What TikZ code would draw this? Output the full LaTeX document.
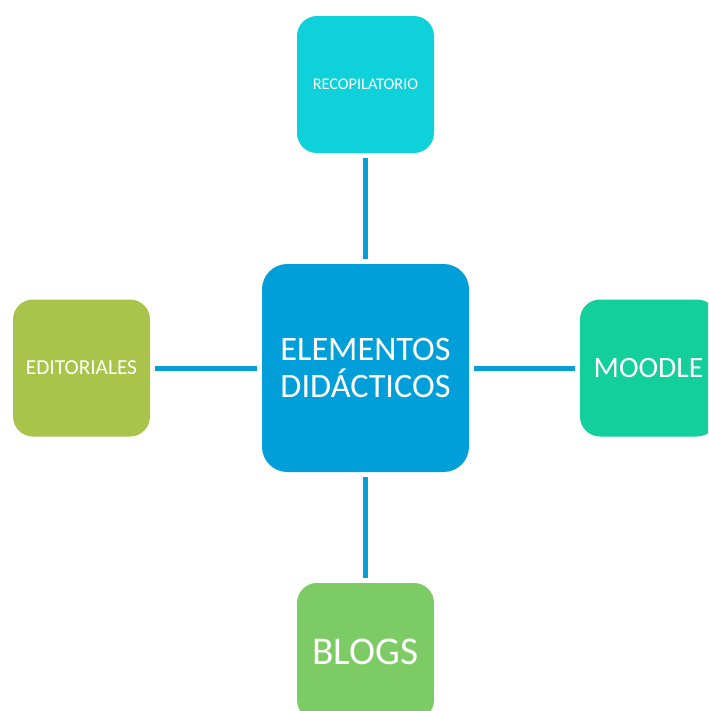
\documentclass[tikz,border=0pt]{standalone}
\usepackage{fontspec}
\setmainfont{Carlito}
\definecolor{cmain}{HTML}{009FD9}
\definecolor{ctop}{HTML}{0ED1DA}
\definecolor{cleft}{HTML}{A9C34B}
\definecolor{cright}{HTML}{13CF9B}
\definecolor{cbottom}{HTML}{7DCB64}
\definecolor{cline}{HTML}{099DD8}
\tikzset{
  box/.style={rectangle, rounded corners=15pt, inner sep=0pt, text=white, align=center,
    minimum width={137*0.75pt}, minimum height={137*0.75pt}},
  link/.style={draw=cline, line width=3.75pt, shorten >=3.5pt, shorten <=3.5pt}
}
\begin{document}
\begin{tikzpicture}[x=0.75pt, y=-0.75pt]
\useasboundingbox (0,0) rectangle (708,711);
\clip (0,0) rectangle (708,711);
\node[box, fill=cmain, rounded corners=19pt, minimum width={207*0.75pt}, minimum height={208*0.75pt},
  font=\fontsize{25.7}{27.5}\selectfont] (c) at (365.5,368) {ELEMENTOS\\DIDÁCTICOS};
\node[box, fill=ctop, font=\fontsize{12.2}{14}\selectfont] (t) at (365.5,84.5) {RECOPILATORIO};
\node[box, fill=cleft, font=\fontsize{16}{18}\selectfont] (l) at (81.5,368) {EDITORIALES};
\node[box, fill=cright, font=\fontsize{22.2}{24}\selectfont] (r) at (648.5,368) {MOODLE};
\node[box, fill=cbottom, font=\fontsize{29.5}{30}\selectfont] (b) at (365.5,651.5) {BLOGS};
\draw[link] (t) -- (c);
\draw[link] (l) -- (c);
\draw[link] (c) -- (r);
\draw[link] (c) -- (b);
\end{tikzpicture}
\end{document}
